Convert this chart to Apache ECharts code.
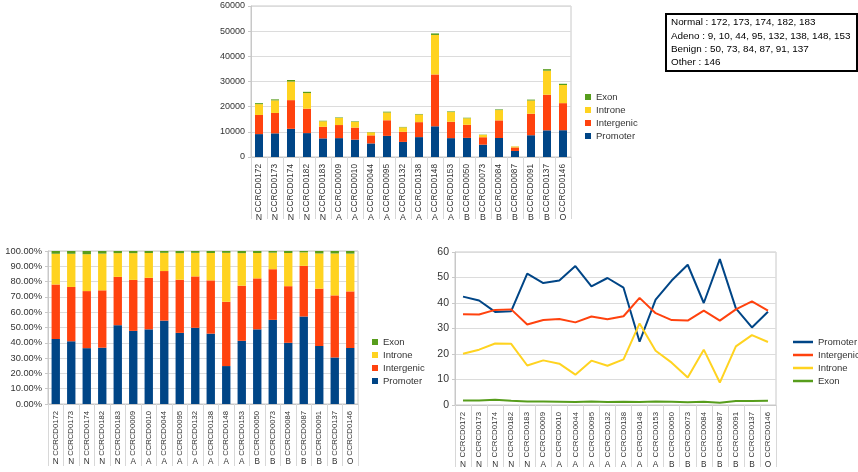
<!DOCTYPE html>
<html>
<head>
<meta charset="utf-8">
<script src="https://cdn.jsdelivr.net/npm/echarts@6/dist/echarts.min.js"></script>
<style>
html,body{margin:0;padding:0;background:#fff;}
#c{width:858px;height:472px;}
</style>
</head>
<body>
<div id="c"></div>
<script>
const categories = ['CCRCD0172','CCRCD0173','CCRCD0174','CCRCD0182','CCRCD0183','CCRCD0009','CCRCD0010','CCRCD0044','CCRCD0095','CCRCD0132','CCRCD0138','CCRCD0148','CCRCD0153','CCRCD0050','CCRCD0073','CCRCD0084','CCRCD0087','CCRCD0091','CCRCD0137','CCRCD0146'];
const groups = ['N','N','N','N','N','A','A','A','A','A','A','A','A','B','B','B','B','B','B','O'];

// absolute counts (top chart)
const promoterCount   = [9100, 9400, 11200, 9500, 7400, 7500, 6900, 5400, 8400, 6000, 7900, 12200, 7500, 7600, 4900, 7550, 2400, 8650, 10600, 10650];
const intergenicCount = [7600, 8100, 11400, 9700, 4600, 5200, 4800, 3200, 6200, 4000, 5950, 20600, 6500, 5200, 2950, 7000, 1400, 8550, 14150, 10750];
const introneCount    = [4300, 5000, 7400, 6200, 2200, 2800, 2300, 1200, 3100, 1800, 3050, 15700, 3850, 2600, 950, 4100, 370, 5250, 9550, 7200];
const exonCount       = [400, 400, 600, 500, 200, 200, 200, 100, 300, 150, 200, 600, 250, 200, 100, 250, 40, 350, 600, 500];

// percentages (bottom charts)
const promoterPct   = [42.5, 41.0, 36.5, 36.8, 51.5, 47.8, 48.8, 54.5, 46.5, 49.8, 46.0, 24.8, 41.3, 48.8, 55.0, 40.0, 57.2, 37.9, 30.4, 36.6];
const intergenicPct = [35.6, 35.5, 37.3, 37.5, 31.6, 33.3, 33.7, 32.4, 34.7, 33.6, 34.8, 42.0, 36.0, 33.3, 33.1, 37.0, 33.1, 37.5, 40.6, 37.0];
const intronePct    = [20.1, 21.7, 24.1, 24.0, 15.5, 17.5, 16.2, 11.9, 17.4, 15.4, 17.9, 32.0, 21.3, 16.6, 10.8, 21.7, 8.8, 23.0, 27.4, 24.7];
const exonPct       = [1.8, 1.8, 2.1, 1.7, 1.4, 1.4, 1.3, 1.2, 1.4, 1.2, 1.3, 1.2, 1.4, 1.3, 1.1, 1.3, 0.9, 1.6, 1.6, 1.7];

const noteLines = ['Normal : 172, 173, 174, 182, 183', 'Adeno : 9, 10, 44, 95, 132, 138, 148, 153', 'Benign : 50, 73, 84, 87, 91, 137', 'Other : 146'];

const C = {Promoter:'#004586', Intergenic:'#ff420e', Introne:'#ffd320', Exon:'#579d1c'};
const labelColor = '#333';
const gridLine = '#dcdcdc';
const frame = '#c8c8c8';
const FONT = '"Liberation Sans", Arial, sans-serif';

function catAxes(grid, fs, offset) {
  return [
    {type:'category', gridIndex:grid, data:categories, boundaryGap:true,
     axisLine:{lineStyle:{color:frame}},
     axisTick:{show:true, interval:0, length:62, lineStyle:{color:'#d8d8d8'}},
     axisLabel:{rotate:90, interval:0, fontSize:fs, color:labelColor, margin:7}},
    {type:'category', gridIndex:grid, data:groups, position:'bottom', offset:offset,
     axisLine:{show:false}, axisTick:{show:false},
     axisLabel:{interval:0, fontSize:fs + 0.5, color:labelColor, margin:0}}
  ];
}
function valAxis(grid, max, interval, fs, fmt) {
  return {type:'value', gridIndex:grid, min:0, max:max, interval:interval,
    axisLine:{show:true, lineStyle:{color:frame}},
    axisTick:{show:true, length:3, lineStyle:{color:frame}},
    splitLine:{lineStyle:{color:gridLine}},
    axisLabel:{fontSize:fs, color:labelColor, margin:6, formatter:fmt}};
}

const names = ['Promoter','Intergenic','Introne','Exon'];
const counts = [promoterCount, intergenicCount, introneCount, exonCount];
const pcts = [promoterPct, intergenicPct, intronePct, exonPct];

const series = [];
names.forEach((n,i) => series.push({name:n, type:'bar', stack:'abs', xAxisIndex:0, yAxisIndex:0, barWidth:'50%', itemStyle:{color:C[n]}, data:counts[i]}));
names.forEach((n,i) => series.push({name:n, type:'bar', stack:'pct', xAxisIndex:2, yAxisIndex:1, barWidth:'54%', itemStyle:{color:C[n]}, data:pcts[i]}));
names.forEach((n,i) => series.push({name:n, type:'line', xAxisIndex:4, yAxisIndex:2, showSymbol:false, symbol:'none', lineStyle:{width:2, color:C[n]}, itemStyle:{color:C[n]}, data:pcts[i]}));

const noteGraphics = [{type:'rect', shape:{x:666, y:14, width:191, height:57}, style:{fill:'#fff', stroke:'#000', lineWidth:2}}];
noteLines.forEach((t,i) => noteGraphics.push({type:'text', x:671, y:22.7 + i*13.2, style:{text:t, fontSize:9.9, fontFamily:FONT, fill:'#000', verticalAlign:'middle'}}));

const option = {
  animation:false,
  textStyle:{fontFamily:FONT},
  grid:[
    {left:251, top:6, width:320, height:151, show:true, borderColor:frame, borderWidth:1},
    {left:48, top:251, width:310, height:153, show:true, borderColor:frame, borderWidth:1},
    {left:455, top:252, width:321, height:153, show:true, borderColor:frame, borderWidth:1}
  ],
  xAxis:[...catAxes(0, 8.3, 56), ...catAxes(1, 7.7, 54), ...catAxes(2, 7.8, 56)],
  yAxis:[
    valAxis(0, 60000, 10000, 9, v => String(v)),
    valAxis(1, 100, 10, 9.3, v => v.toFixed(2) + '%'),
    valAxis(2, 60, 10, 10.5, v => String(v))
  ],
  legend:[
    {data:['Exon','Introne','Intergenic','Promoter'], orient:'vertical', left:580, top:87, icon:'rect', itemWidth:6, itemHeight:6, itemGap:3, textStyle:{fontSize:9.5, color:labelColor}},
    {data:['Exon','Introne','Intergenic','Promoter'], orient:'vertical', left:367, top:332, icon:'rect', itemWidth:6, itemHeight:6, itemGap:3, textStyle:{fontSize:9.5, color:labelColor}},
    {data:['Promoter','Intergenic','Introne','Exon'], orient:'vertical', left:788, top:332, icon:'rect', itemWidth:20, itemHeight:2.5, itemGap:3, textStyle:{fontSize:9.5, color:labelColor}}
  ],
  graphic: noteGraphics,
  series: series
};
const chart = echarts.init(document.getElementById('c'), null, {renderer:'canvas'});
chart.setOption(option);
</script>
</body>
</html>
